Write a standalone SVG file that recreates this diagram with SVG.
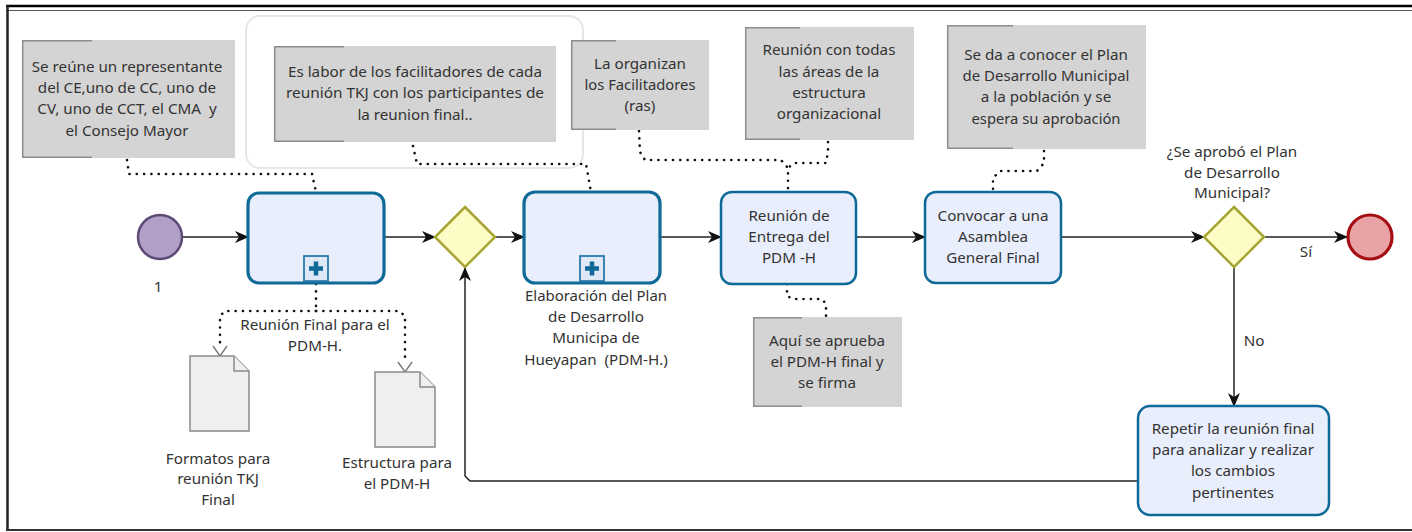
<svg xmlns="http://www.w3.org/2000/svg" width="1412" height="532" viewBox="0 0 1412 532">
<style>
text{font-family:"Noto Sans","Open Sans","DejaVu Sans",sans-serif;font-size:15.2px;fill:#333;text-anchor:middle}
.ann{fill:#d4d4d4}
.br{fill:none;stroke:#8c8c8c;stroke-width:1.5}
.task{fill:#e9eefc;stroke:#0f6a98;stroke-width:2.5}
.sub{fill:#e9eefc;stroke:#0f6a98;stroke-width:3.2}
.flow{fill:none;stroke:#222;stroke-width:1.5}
.dot{fill:none;stroke:#111;stroke-width:2.6;stroke-linecap:round;stroke-dasharray:0.1 7.2}
.gw{fill:#fdfcc6;stroke:#a7a532;stroke-width:2.5}
.doc{fill:#efefef;stroke:#8a8a8a;stroke-width:1.5}
</style>
<defs>
<marker id="arr" viewBox="0 0 14 12" refX="13" refY="6" markerWidth="14" markerHeight="12" markerUnits="userSpaceOnUse" orient="auto">
<path d="M0,0 L14,6 L0,12 L4,6 Z" fill="#111"/>
</marker>
<marker id="open" viewBox="0 0 12 16" refX="11" refY="8" markerWidth="12" markerHeight="16" markerUnits="userSpaceOnUse" orient="auto">
<path d="M1,1 L11,8 L1,15" fill="none" stroke="#777" stroke-width="1.4"/>
</marker>
</defs>
<rect width="1412" height="532" fill="#fff"/>
<g id="frame">
<line x1="6" y1="6" x2="1412" y2="6" stroke="#000" stroke-width="2.5"/>
<line x1="6" y1="10.5" x2="1412" y2="10.5" stroke="#555" stroke-width="1.2"/>
<line x1="7.5" y1="5" x2="7.5" y2="531" stroke="#222" stroke-width="2.5"/>
<line x1="6" y1="530" x2="1412" y2="530" stroke="#333" stroke-width="2"/>
</g>
<g id="group-box"><rect x="246" y="16" width="337" height="152" rx="14" fill="none" stroke="#e6e6e6" stroke-width="2"/></g>

<g id="connectors">
<path class="flow" d="M183,237 H248" marker-end="url(#arr)"/>
<path class="flow" d="M384,237 H435" marker-end="url(#arr)"/>
<path class="flow" d="M495,237 H524" marker-end="url(#arr)"/>
<path class="flow" d="M660,237 H721" marker-end="url(#arr)"/>
<path class="flow" d="M856,237 H925" marker-end="url(#arr)"/>
<path class="flow" d="M1061,237 H1204" marker-end="url(#arr)"/>
<path class="flow" d="M1264,237 H1347" marker-end="url(#arr)"/>
<path class="flow" d="M1234,267 V406" marker-end="url(#arr)"/>
<path class="flow" d="M1138,481 H470 L465,476 V268" marker-end="url(#arr)"/>
<path class="dot" d="M127,160 L129,174 H312 L316,192"/>
<path class="dot" d="M413,146 L417,164 H586 L591,192"/>
<path class="dot" d="M639,131 L640,152 L645,160 H781 L788,168 V192"/>
<path class="dot" d="M828,142 V152 L826,163 H794 L788,168"/>
<path class="dot" d="M1044,151 V163 L1037,171 H1000 L993,178 V192"/>
<path class="dot" d="M787,284 V296 L793,299 H822 L826,304 V316"/>
<path class="dot" d="M316,284 V305 L316,311"/>
<path class="dot" d="M316,311 H225 L220,316 V347"/>
<path class="dot" d="M316,311 H399 L405,316 V362"/>
<path d="M220,346 V356" fill="none" stroke="none" marker-end="url(#open)"/>
<path d="M405,362 V372" fill="none" stroke="none" marker-end="url(#open)"/>
</g>

<g id="ann1"><rect class="ann" x="22" y="40" width="213" height="118"/><path class="br" d="M92,40.7 H22.7 V157.3 H92"/>
<text x="127" y="72">Se reúne un representante</text><text x="127" y="93">del CE,uno de CC, uno de</text><text x="127" y="114" xml:space="preserve">CV, uno de CCT, el CMA  y</text><text x="127" y="136">el Consejo Mayor</text></g>
<g id="ann2"><rect class="ann" x="274" y="46" width="282" height="96"/><path class="br" d="M344,46.7 H274.7 V141.3 H344"/>
<text x="415" y="77" textLength="254" lengthAdjust="spacingAndGlyphs">Es labor de los facilitadores de cada</text><text x="415" y="98" textLength="258" lengthAdjust="spacingAndGlyphs">reunión TKJ con los participantes de</text><text x="415" y="120">la reunion final..</text></g>
<g id="ann3"><rect class="ann" x="571" y="40" width="138" height="90"/><path class="br" d="M616,40.7 H571.7 V129.3 H616"/>
<text x="640" y="69">La organizan</text><text x="640" y="90" textLength="111" lengthAdjust="spacingAndGlyphs">los Facilitadores</text><text x="640" y="111">(ras)</text></g>
<g id="ann4"><rect class="ann" x="745" y="27" width="169" height="113"/><path class="br" d="M800,27.7 H745.7 V139.3 H800"/>
<text x="829" y="55">Reunión con todas</text><text x="829" y="77">las áreas de la</text><text x="829" y="98">estructura</text><text x="829" y="119">organizacional</text></g>
<g id="ann5"><rect class="ann" x="947" y="25" width="199" height="124"/><path class="br" d="M1013,25.7 H947.7 V148.3 H1013"/>
<text x="1046" y="60">Se da a conocer el Plan</text><text x="1046" y="81" textLength="167" lengthAdjust="spacingAndGlyphs">de Desarrollo Municipal</text><text x="1046" y="102">a la población y se</text><text x="1046" y="124" textLength="149" lengthAdjust="spacingAndGlyphs">espera su aprobación</text></g>
<g id="ann6"><rect class="ann" x="753" y="317" width="149" height="90"/><path class="br" d="M802,317.7 H753.7 V406.3 H802"/>
<text x="827" y="346">Aquí se aprueba</text><text x="827" y="367">el PDM-H final y</text><text x="827" y="388">se firma</text></g>

<g id="start"><circle cx="160" cy="237" r="22" fill="#b19fc8" stroke="#5e4a76" stroke-width="2.5"/><text x="158" y="292">1</text></g>
<g id="sub1"><rect class="sub" x="248" y="193" width="136" height="90" rx="11"/>
<rect x="304" y="256" width="24" height="25" fill="#dfe8f7" stroke="#2a78a8" stroke-width="1.8"/>
<path d="M316,261.5 V275.5 M309,268.5 H323" stroke="#0f6a98" stroke-width="4.5"/></g>
<g id="gw1"><path class="gw" d="M465,207 L495,237 L465,267 L435,237 Z"/></g>
<g id="sub2"><rect class="sub" x="524" y="192" width="136" height="91" rx="11"/>
<rect x="580" y="256" width="24" height="25" fill="#dfe8f7" stroke="#2a78a8" stroke-width="1.8"/>
<path d="M592,261.5 V275.5 M585,268.5 H599" stroke="#0f6a98" stroke-width="4.5"/>
<text x="596" y="301" textLength="142" lengthAdjust="spacingAndGlyphs">Elaboración del Plan</text><text x="596" y="322">de Desarrollo</text><text x="596" y="343">Municipa de</text><text x="596" y="365" xml:space="preserve">Hueyapan  (PDM-H.)</text></g>
<g id="task3"><rect class="task" x="721" y="192" width="135" height="92" rx="11"/>
<text x="789" y="221">Reunión de</text><text x="789" y="242">Entrega del</text><text x="789" y="263">PDM -H</text></g>
<g id="task4"><rect class="task" x="925" y="192" width="136" height="91" rx="11"/>
<text x="993" y="221">Convocar a una</text><text x="993" y="242">Asamblea</text><text x="993" y="263">General Final</text></g>
<g id="gw2"><path class="gw" d="M1234,207 L1264,237 L1234,267 L1204,237 Z"/>
<text x="1232" y="157">¿Se aprobó el Plan</text><text x="1232" y="178">de Desarrollo</text><text x="1232" y="198">Municipal?</text>
<text x="1306" y="257">Sí</text><text x="1254" y="346">No</text></g>
<g id="end"><circle cx="1370" cy="237" r="22" fill="#e9a3a6" stroke="#a30f12" stroke-width="3.2"/></g>
<g id="task5"><rect class="task" x="1138" y="406" width="191" height="109" rx="12"/>
<text x="1233" y="434">Repetir la reunión final</text><text x="1233" y="455" textLength="162" lengthAdjust="spacingAndGlyphs">para analizar y realizar</text><text x="1233" y="476">los cambios</text><text x="1233" y="498">pertinentes</text></g>
<g id="doc1"><path class="doc" d="M190,356 H234 L249,371 V431 H190 Z"/><path class="doc" d="M234,356 V371 H249" fill="none"/>
<text x="218" y="464">Formatos para</text><text x="218" y="484">reunión TKJ</text><text x="218" y="505">Final</text></g>
<g id="doc2"><path class="doc" d="M375,372 H420 L435,387 V447 H375 Z"/><path class="doc" d="M420,372 V387 H435" fill="none"/>
<text x="397" y="468">Estructura para</text><text x="397" y="489">el PDM-H</text></g>
<g id="assoc-label"><text x="315" y="330">Reunión Final para el</text><text x="315" y="351">PDM-H.</text></g>
</svg>
